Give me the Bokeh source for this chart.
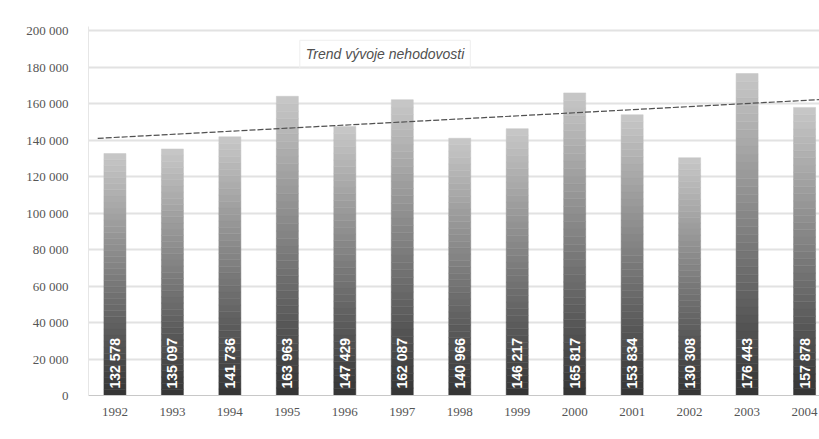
import math
from bokeh.plotting import figure
from bokeh.models import ColumnDataSource, FixedTicker, Label
from bokeh.core.properties import value
from bokeh.embed import file_html
from bokeh.resources import INLINE

# ---- data ----
years = [1992, 1993, 1994, 1995, 1996, 1997, 1998, 1999, 2000, 2001, 2002, 2003, 2004]
year_labels = ["1992", "1993", "1994", "1995", "1996", "1997", "1998", "1999",
               "2000", "2001", "2002", "2003", "2004"]
counts = [132578, 135097, 141736, 163963, 147429, 162087, 140966,
          146217, 165817, 153834, 130308, 176443, 157878]
y_ticks = [0, 20000, 40000, 60000, 80000, 100000, 120000, 140000, 160000, 180000, 200000]
y_tick_labels = ["0", "20 000", "40 000", "60 000", "80 000", "100 000", "120 000",
                 "140 000", "160 000", "180 000", "200 000"]
trend_years = [1991.7, 2004.3]
trend_values = [140900, 162200]
trend_label = "Trend vývoje nehodovosti"


def fmt(v):
    return f"{v:,}".replace(",", " ")


bar_labels = [fmt(v) for v in counts]

# ---- figure ----
p = figure(width=819, height=439, output_backend="svg", toolbar_location=None,
           x_range=(1991.54, 2004.26), y_range=(0, 202200),
           min_border_left=88, min_border_right=0, min_border_top=26, min_border_bottom=44)
p.outline_line_color = None
p.background_fill_color = "white"
p.border_fill_color = "white"

# gradient bars: each bar split into thin slices, dark at bottom, light at top
N = 40
dark = (52, 52, 52)
light = (200, 200, 200)
xs, bots, tops, cols = [], [], [], []
for yr, v in zip(years, counts):
    for k in range(N):
        f = (k + 0.5) / N
        c = tuple(int(round(dark[i] + (light[i] - dark[i]) * f)) for i in range(3))
        xs.append(yr)
        bots.append(v * k / N)
        tops.append(v * (k + 1) / N)
        cols.append("#%02x%02x%02x" % c)
src = ColumnDataSource(dict(x=xs, bottom=bots, top=tops, color=cols))
p.vbar(x="x", bottom="bottom", top="top", width=0.383, source=src,
       fill_color="color", line_color="color", line_width=0.5)

# bar value labels
lab_src = ColumnDataSource(dict(x=years, y=[0] * len(years), t=bar_labels))
p.text(x="x", y="y", text="t", source=lab_src, angle=math.pi / 2,
       text_align="left", text_baseline="middle", y_offset=-7,
       text_color="white", text_font_style="bold", text_font_size="14px",
       text_font=value("Liberation Sans"))

# trend line
p.line(trend_years, trend_values, line_color="#505050", line_width=1.2, line_dash="6 2")
p.add_layout(Label(x=1996.7, y=187000, text=trend_label, text_align="center",
                   text_baseline="middle", text_font_style="italic", text_font_size="14px",
                   text_color="#505050", text_font="Liberation Sans",
                   border_line_color="#eeeeee", border_line_width=1,
                   padding=6))

# axes
p.xaxis.ticker = FixedTicker(ticks=years)
p.xaxis.major_label_overrides = {y: l for y, l in zip(years, year_labels)}
p.xaxis.major_tick_line_color = None
p.xaxis.minor_tick_line_color = None
p.xaxis.axis_line_color = "#c8c8c8"
p.xaxis.major_label_standoff = 6
p.xaxis.major_label_text_font = "Liberation Serif"
p.xaxis.major_label_text_font_size = "13px"
p.xaxis.major_label_text_color = "#555555"

p.yaxis.ticker = FixedTicker(ticks=y_ticks)
p.yaxis.major_label_overrides = {t: l for t, l in zip(y_ticks, y_tick_labels)}
p.yaxis.major_tick_line_color = None
p.yaxis.minor_tick_line_color = None
p.yaxis.axis_line_color = "#e6e6e6"
p.yaxis.major_label_standoff = 14
p.yaxis.major_label_text_font = "Liberation Serif"
p.yaxis.major_label_text_font_size = "13px"
p.yaxis.major_label_text_color = "#555555"

p.xgrid.grid_line_color = None
p.ygrid.ticker = FixedTicker(ticks=y_ticks)
p.ygrid.grid_line_color = "#e2e2e2"
p.ygrid.grid_line_width = 2

open("out.html", "w").write(file_html(p, INLINE))
